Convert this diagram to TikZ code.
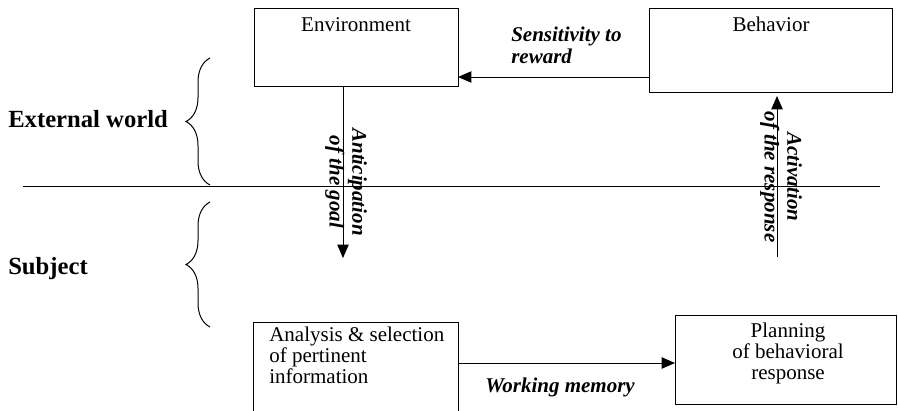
\documentclass[tikz,border=0pt]{standalone}
\usepackage{fontspec}
\setmainfont{Liberation Serif}
\usetikzlibrary{arrows.meta,decorations.pathreplacing}
\tikzset{
  box/.style={draw, rectangle, inner sep=0pt, outer sep=0pt, line width=0.75pt},
  arr/.style={-{Triangle[length=10pt,width=8.5pt]}, line width=0.75pt},
  boxtext/.style={font=\fontsize{15.75}{17}\selectfont, inner sep=0pt},
  lbl/.style={font=\fontsize{15.75}{17}\selectfont\bfseries\itshape, inner sep=0pt},
  side/.style={font=\fontsize{18.5}{20}\selectfont\bfseries, inner sep=0pt},
  brc/.style={decorate, decoration={brace, amplitude=18pt}, line width=0.75pt},
  thin line/.style={line width=0.75pt}
}
\begin{document}
\begin{tikzpicture}[x=0.75pt, y=-0.75pt]
\useasboundingbox (0,0) rectangle (898,410);
\clip (0,0) rectangle (898,410);

% boxes
\node[box, anchor=north west, minimum width=153pt, minimum height=57.75pt] (env) at (254,9) {};
\node[box, anchor=north west, minimum width=182.25pt, minimum height=62.25pt] (beh) at (649,9) {};
\node[box, anchor=north west, minimum width=153.75pt, minimum height=67.5pt] (anal) at (253,322) {};
\node[box, anchor=north west, minimum width=165.75pt, minimum height=66.75pt] (plan) at (675,315) {};

% box texts
\node[boxtext, anchor=base] (envt) at (356,32) {Environment};
\node[boxtext, anchor=base] (beht) at (771,32) {Behavior};
\node[boxtext, anchor=base west, align=left, font=\fontsize{15.75}{14.25}\selectfont] (analt) at (269,383) {Analysis \& selection\\of pertinent\\information};
\node[boxtext, anchor=base, align=center, font=\fontsize{15.75}{15.75}\selectfont] (plant) at (788,379) {Planning\\of behavioral\\response};

% side labels
\node[side, anchor=base west] (ext) at (8,127) {External world};
\node[side, anchor=base west] (subj) at (8,274) {Subject};

% divider
\coordinate (dl) at (23,186);
\coordinate (dr) at (880,186);
\draw[thin line] (dl) -- (dr);

% braces
\coordinate (b1s) at (210,185);
\coordinate (b1e) at (210,58);
\coordinate (b2s) at (210,327);
\coordinate (b2e) at (210,202);
\draw[brc] (b1s) -- (b1e);
\draw[brc] (b2s) -- (b2e);

% connectors
\coordinate (sr) at (0,77);
\draw[arr] (beh.west |- sr) -- (env.east |- sr);
\node[lbl, anchor=base west, align=left] (sens) at (511,64) {Sensitivity to\\reward};

\coordinate (antend) at (343,258);
\draw[arr] (env.south -| antend) -- (antend);
\node[lbl, rotate=-90, align=center] (antl) at (346,182) {Anticipation\\of the goal};

\coordinate (actstart) at (777,257);
\draw[arr, shorten >=3pt] (actstart) -- (actstart |- beh.south);
\node[lbl, rotate=-90, align=center] (actl) at (781,177) {Activation\\of the response};

\coordinate (wm) at (0,363);
\draw[arr] (anal.east |- wm) -- (plan.west |- wm);
\node[lbl, anchor=base west] (wml) at (485,392) {Working memory};
\end{tikzpicture}
\end{document}
